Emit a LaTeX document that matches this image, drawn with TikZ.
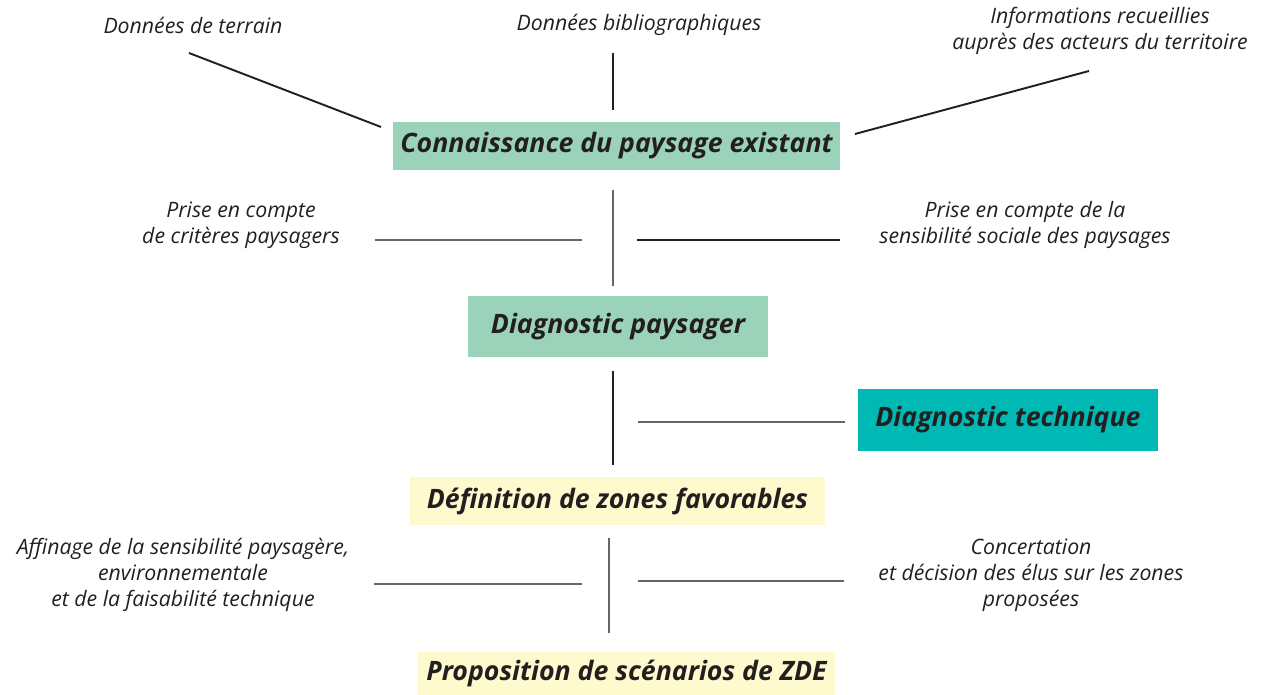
\documentclass[tikz,border=0pt]{standalone}
\usepackage{fontspec}
\setmainfont{Open Sans}
\usepackage{xcolor}
\usepackage{tikz}
\usetikzlibrary{positioning}

\definecolor{mintgreen}{HTML}{9BD3BA}
\definecolor{tealbox}{HTML}{00B8B4}
\definecolor{paleyellow}{HTML}{FFFACD}
\definecolor{inkdark}{HTML}{231F20}
\definecolor{linegray}{HTML}{666666}

\begin{document}
\begin{tikzpicture}[
    x=0.02cm, y=-0.02cm,
    stage/.style={rectangle, inner sep=0pt, text centered, text=inkdark, font=\fontsize{15.2}{18}\selectfont\bfseries\itshape},
    source/.style={align=center, text=inkdark, inner sep=0pt, font=\fontsize{12.1}{14.7}\selectfont\itshape},
    blackline/.style={draw=inkdark, line width=1.1pt},
    grayline/.style={draw=linegray, line width=1.1pt}
]
    \useasboundingbox (0,0) rectangle (1265,695);

    % stages
    \node[stage, fill=mintgreen, minimum width=8.94cm, minimum height=0.96cm] (knowledge) at (616.5,146) {Connaissance du paysage existant};
    \node[stage, fill=mintgreen, minimum width=6cm, minimum height=1.22cm] (landscape) at (618,326.5) {Diagnostic paysager};
    \node[stage, fill=tealbox, minimum width=6cm, minimum height=1.24cm] (technical) at (1008,420) {Diagnostic technique};
    \node[stage, fill=paleyellow, minimum width=8.3cm, minimum height=0.96cm] (zones) at (617.5,501) {Définition de zones favorables};
    \node[stage, fill=paleyellow, minimum width=8.34cm, minimum height=0.86cm] (scenarios) at (626.5,673.5) {Proposition de scénarios de ZDE};

    % sources
    \node[source] (field) at (193,25) {Données de terrain};
    \node[source] (biblio) at (639,25) {Données bibliographiques};
    \node[source] (actors) at (1100,31) {Informations recueillies\\auprès des acteurs du territoire};
    \node[source] (criteria) at (241,225) {Prise en compte\\de critères paysagers};
    \node[source] (social) at (1025,225) {Prise en compte de la\\sensibilité sociale des paysages};
    \node[source] (refine) at (183,575) {Affinage de la sensibilité paysagère,\\environnementale\\et de la faisabilité technique};
    \node[source] (consult) at (1031,575) {Concertation\\et décision des élus sur les zones\\proposées};

    % line ends
    \coordinate (fieldA) at (189,53);   \coordinate (fieldB) at (381,127);
    \coordinate (biblioA) at (613,53);  \coordinate (biblioB) at (613,110);
    \coordinate (actorsA) at (1089,71); \coordinate (actorsB) at (855,134);
    \coordinate (axisA) at (613,190);   \coordinate (axisB) at (613,286);
    \coordinate (criteriaA) at (375,240); \coordinate (criteriaB) at (582,240);
    \coordinate (socialA) at (637,240); \coordinate (socialB) at (840,240);
    \coordinate (axisC) at (613,371);   \coordinate (axisD) at (613,465);
    \coordinate (technicalA) at (638,422); \coordinate (technicalB) at (845,422);
    \coordinate (axisE) at (609,538);   \coordinate (axisF) at (609,633);
    \coordinate (refineA) at (374,584); \coordinate (refineB) at (582,584);
    \coordinate (consultA) at (638,581); \coordinate (consultB) at (844,581);

    \draw[blackline] (fieldA) -- (fieldB);
    \draw[blackline] (biblioA) -- (biblioB);
    \draw[blackline] (actorsA) -- (actorsB);
    \draw[grayline] (axisA) -- (axisB);
    \draw[grayline] (criteriaA) -- (criteriaB);
    \draw[blackline] (socialA) -- (socialB);
    \draw[blackline] (axisC) -- (axisD);
    \draw[grayline] (technicalA) -- (technicalB);
    \draw[grayline] (axisE) -- (axisF);
    \draw[grayline] (refineA) -- (refineB);
    \draw[grayline] (consultA) -- (consultB);
\end{tikzpicture}
\end{document}
